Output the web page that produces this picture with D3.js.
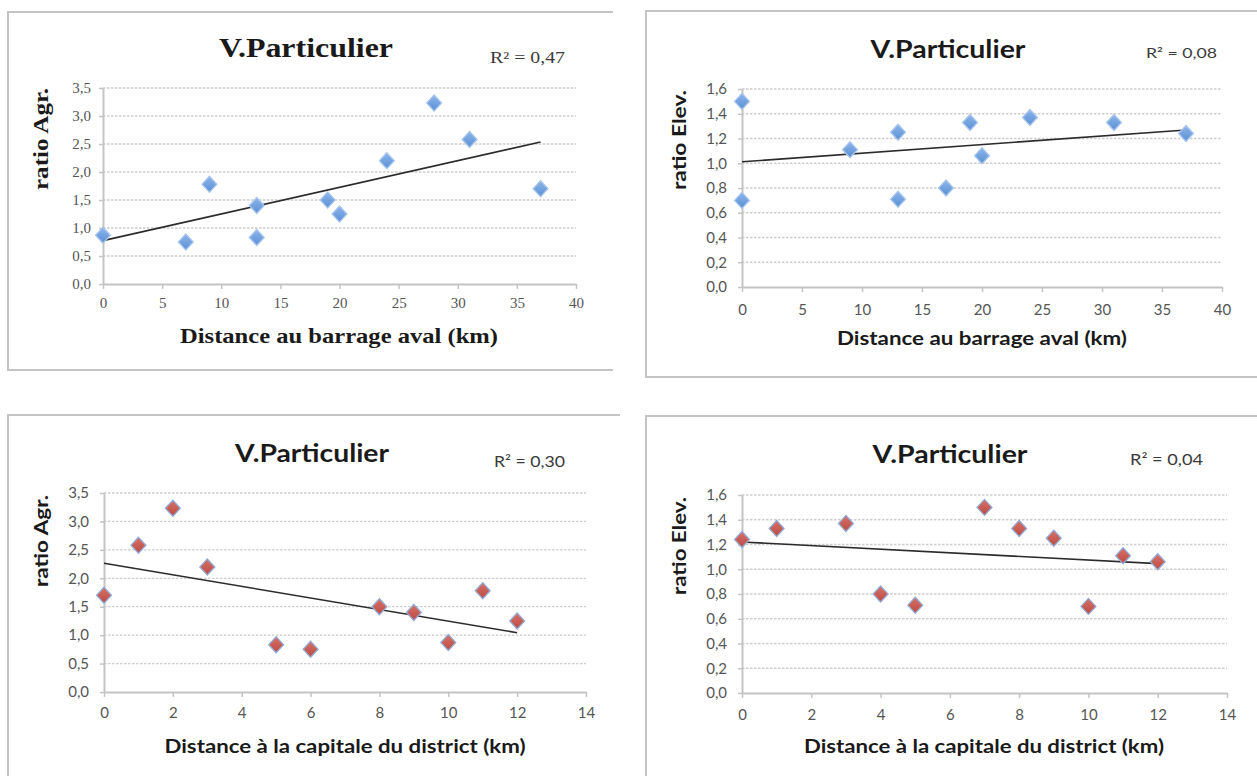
<!DOCTYPE html>
<html>
<head>
<meta charset="utf-8">
<script src="https://cdn.jsdelivr.net/npm/d3@7"></script>
<style>
  html, body { margin: 0; padding: 0; background: #ffffff; }
  svg { display: block; }
</style>
</head>
<body>
<svg id="chart" width="1257" height="776"></svg>
<script>
// ---------------- DATA ----------------
// Panel 1: ratio Agr. vs distance au barrage aval
const distBarrageAgr   = [0, 7, 9, 13, 13, 19, 20, 24, 28, 31, 37];
const ratioAgrBarrage  = [0.87, 0.75, 1.78, 1.40, 0.83, 1.50, 1.25, 2.20, 3.23, 2.58, 1.70];
// Panel 2: ratio Elev. vs distance au barrage aval
const distBarrageElev  = [0, 0, 9, 13, 13, 17, 19, 20, 24, 31, 37];
const ratioElevBarrage = [1.50, 0.70, 1.11, 1.25, 0.71, 0.80, 1.33, 1.06, 1.37, 1.33, 1.24];
// Panel 3: ratio Agr. vs distance à la capitale du district
const distCapitaleAgr  = [0, 1, 2, 3, 5, 6, 8, 9, 10, 11, 12];
const ratioAgrCapitale = [1.70, 2.58, 3.23, 2.20, 0.83, 0.75, 1.50, 1.40, 0.87, 1.78, 1.25];
// Panel 4: ratio Elev. vs distance à la capitale du district
const distCapitaleElev  = [0, 1, 3, 4, 5, 7, 8, 9, 10, 11, 12];
const ratioElevCapitale = [1.24, 1.33, 1.37, 0.80, 0.71, 1.50, 1.33, 1.25, 0.70, 1.11, 1.06];

// Tick values
const xTicksBarrage  = [0, 5, 10, 15, 20, 25, 30, 35, 40];
const xTicksCapitale = [0, 2, 4, 6, 8, 10, 12, 14];
const yTicksAgr  = [0, 0.5, 1.0, 1.5, 2.0, 2.5, 3.0, 3.5];
const yTicksElev = [0, 0.2, 0.4, 0.6, 0.8, 1.0, 1.2, 1.4, 1.6];

// Texts
const titles  = ["V.Particulier", "V.Particulier", "V.Particulier", "V.Particulier"];
const r2Texts = ["R² = 0,47", "R² = 0,08", "R² = 0,30", "R² = 0,04"];
const xLabels = ["Distance au barrage aval (km)", "Distance au barrage aval (km)",
                 "Distance à la capitale du district (km)", "Distance à la capitale du district (km)"];
const yLabels = ["ratio Agr.", "ratio Elev.", "ratio Agr.", "ratio Elev."];

// ---------------- LAYOUT ----------------
const SERIF = "'Liberation Serif', 'DejaVu Serif', serif";
const SANS  = "Lato, 'Open Sans', 'Liberation Sans', sans-serif";

const panels = [
  { xs: distBarrageAgr, ys: ratioAgrBarrage, xTicks: xTicksBarrage, yTicks: yTicksAgr,
    frame: [8, 12, 613, 370], plot: { l: 103, r: 576, b: 284, t: 88 },
    font: SERIF, tickSize: 15, color: "blue",
    title: { x: 306, y: 57, size: 27, w: 174 },
    r2: { x: 490, y: 63, size: 16, w: 75 },
    xl: { x: 339, y: 343, size: 21, w: 318 },
    yl: { x: 48, cy: 139, size: 22, w: 102 },
    ytx: 91, xtc: 303 },
  { xs: distBarrageElev, ys: ratioElevBarrage, xTicks: xTicksBarrage, yTicks: yTicksElev,
    frame: [646, 11, 1258, 377], plot: { l: 742, r: 1222, b: 287, t: 89 },
    font: SANS, tickSize: 15, color: "blue",
    title: { x: 948, y: 58, size: 24, w: 155 },
    r2: { x: 1146, y: 58, size: 14, w: 71 },
    xl: { x: 982, y: 345, size: 19, w: 290 },
    yl: { x: 686, cy: 140, size: 19, w: 100 },
    ytx: 727, xtc: 310 },
  { xs: distCapitaleAgr, ys: ratioAgrCapitale, xTicks: xTicksCapitale, yTicks: yTicksAgr,
    frame: [8, 415, 620, 777], plot: { l: 104, r: 586, b: 692, t: 493 },
    font: SANS, tickSize: 15, color: "red",
    title: { x: 312, y: 462, size: 24, w: 154 },
    r2: { x: 494, y: 467, size: 15, w: 71 },
    xl: { x: 345, y: 753, size: 19, w: 361 },
    yl: { x: 48, cy: 541, size: 19, w: 92 },
    ytx: 89, xtc: 713 },
  { xs: distCapitaleElev, ys: ratioElevCapitale, xTicks: xTicksCapitale, yTicks: yTicksElev,
    frame: [646, 416, 1258, 777], plot: { l: 742, r: 1227, b: 693, t: 495 },
    font: SANS, tickSize: 15, color: "red",
    title: { x: 950, y: 463, size: 24, w: 155 },
    r2: { x: 1130, y: 465, size: 15, w: 73 },
    xl: { x: 984, y: 753, size: 19, w: 360 },
    yl: { x: 686, cy: 546, size: 19, w: 98 },
    ytx: 727, xtc: 715 }
];

const svg = d3.select("#chart");
const defs = svg.append("defs");

function gradient(id, c1, c2) {
  const g = defs.append("linearGradient").attr("id", id)
    .attr("x1", "0").attr("y1", "0").attr("x2", "0").attr("y2", "1");
  g.append("stop").attr("offset", "0%").attr("stop-color", c1);
  g.append("stop").attr("offset", "100%").attr("stop-color", c2);
}
gradient("gBlue", "#8db6ea", "#5a8fd4");
gradient("gRed", "#d77268", "#bb4a42");

const markerStyle = {
  blue: { fill: "url(#gBlue)", stroke: "#a7c5ef" },
  red:  { fill: "url(#gRed)",  stroke: "#93a9d3" }
};

const fmtY = d => d3.format(".1f")(d).replace(".", ",");
const fmtX = d => String(d);

function fitText(sel, w) {
  sel.attr("textLength", w).attr("lengthAdjust", "spacingAndGlyphs");
}

function regression(xs, ys) {
  const n = xs.length;
  const mx = d3.mean(xs), my = d3.mean(ys);
  let sxy = 0, sxx = 0;
  for (let i = 0; i < n; i++) { sxy += (xs[i] - mx) * (ys[i] - my); sxx += (xs[i] - mx) ** 2; }
  const m = sxy / sxx;
  return { m, b: my - m * mx };
}

panels.forEach((p, i) => {
  const g = svg.append("g");
  const [fx0, fy0, fx1, fy1] = p.frame;

  // frame (top, left, bottom)
  g.append("path")
    .attr("d", `M${fx1},${fy0} L${fx0},${fy0} L${fx0},${fy1} L${fx1},${fy1}`)
    .attr("fill", "none").attr("stroke", "#c4c4c4").attr("stroke-width", 2);

  const xMax = d3.max(p.xTicks), yMax = d3.max(p.yTicks);
  const x = d3.scaleLinear().domain([0, xMax]).range([p.plot.l, p.plot.r]);
  const y = d3.scaleLinear().domain([0, yMax]).range([p.plot.b, p.plot.t]);

  // gridlines
  g.append("g").selectAll("line").data(p.yTicks.filter(v => v > 0)).join("line")
    .attr("x1", p.plot.l).attr("x2", p.plot.r)
    .attr("y1", d => y(d)).attr("y2", d => y(d))
    .attr("stroke", "#cdcdcd").attr("stroke-width", 1.3)
    .attr("stroke-dasharray", "2.5,1.5");

  // x axis
  const xPad = (p.xtc - p.plot.b) - 0.36 * p.tickSize - 5;
  const xAxis = d3.axisBottom(x).tickValues(p.xTicks).tickFormat(fmtX)
    .tickSizeInner(5).tickSizeOuter(0).tickPadding(xPad);
  const gx = g.append("g").attr("transform", `translate(0,${p.plot.b})`).call(xAxis);
  gx.select(".domain").attr("stroke", "#c4c4c4").attr("stroke-width", 2);
  gx.selectAll(".tick line").attr("stroke", "#c4c4c4").attr("stroke-width", 1.5);
  gx.selectAll(".tick text").attr("fill", "#555555")
    .style("font-family", p.font).style("font-size", p.tickSize + "px");

  // y axis
  const yAxis = d3.axisLeft(y).tickValues(p.yTicks).tickFormat(fmtY)
    .tickSizeInner(4).tickSizeOuter(0).tickPadding(p.plot.l - p.ytx - 4);
  const gy = g.append("g").attr("transform", `translate(${p.plot.l},0)`).call(yAxis);
  gy.select(".domain").attr("stroke", "#c4c4c4").attr("stroke-width", 2);
  gy.selectAll(".tick line").attr("stroke", "#c4c4c4").attr("stroke-width", 1.5);
  gy.selectAll(".tick text").attr("fill", "#555555")
    .style("font-family", p.font).style("font-size", p.tickSize + "px");

  // trendline (least squares over the data)
  const reg = regression(p.xs, p.ys);
  const x0 = d3.min(p.xs), x1 = d3.max(p.xs);
  g.append("line")
    .attr("x1", x(x0)).attr("y1", y(reg.b + reg.m * x0))
    .attr("x2", x(x1)).attr("y2", y(reg.b + reg.m * x1))
    .attr("stroke", "#2b2b2b").attr("stroke-width", 1.6);

  // markers
  const sym = d3.symbol().type(d3.symbolDiamond2).size(140);
  const ms = markerStyle[p.color];
  g.append("g").selectAll("path").data(p.xs.map((v, k) => [v, p.ys[k]])).join("path")
    .attr("d", sym)
    .attr("transform", d => `translate(${x(d[0])},${y(d[1])}) scale(1,1.08)`)
    .attr("fill", ms.fill).attr("stroke", ms.stroke).attr("stroke-width", 1.3);

  // title
  const t = g.append("text").text(titles[i])
    .attr("x", p.title.x).attr("y", p.title.y).attr("text-anchor", "middle")
    .attr("fill", "#1a1a1a").style("font-family", p.font)
    .style("font-weight", "bold").style("font-size", p.title.size + "px");
  fitText(t, p.title.w);

  // R² label
  const r = g.append("text").text(r2Texts[i])
    .attr("x", p.r2.x).attr("y", p.r2.y)
    .attr("fill", "#3a3a3a").style("font-family", p.font)
    .style("font-size", p.r2.size + "px");
  fitText(r, p.r2.w);

  // x label
  const xl = g.append("text").text(xLabels[i])
    .attr("x", p.xl.x).attr("y", p.xl.y).attr("text-anchor", "middle")
    .attr("fill", "#1a1a1a").style("font-family", p.font)
    .style("font-weight", "bold").style("font-size", p.xl.size + "px");
  fitText(xl, p.xl.w);

  // y label (rotated)
  const yl = g.append("text").text(yLabels[i])
    .attr("transform", `translate(${p.yl.x},${p.yl.cy}) rotate(-90)`)
    .attr("text-anchor", "middle")
    .attr("fill", "#1a1a1a").style("font-family", p.font)
    .style("font-weight", "bold").style("font-size", p.yl.size + "px");
  fitText(yl, p.yl.w);
});
</script>
</body>
</html>
